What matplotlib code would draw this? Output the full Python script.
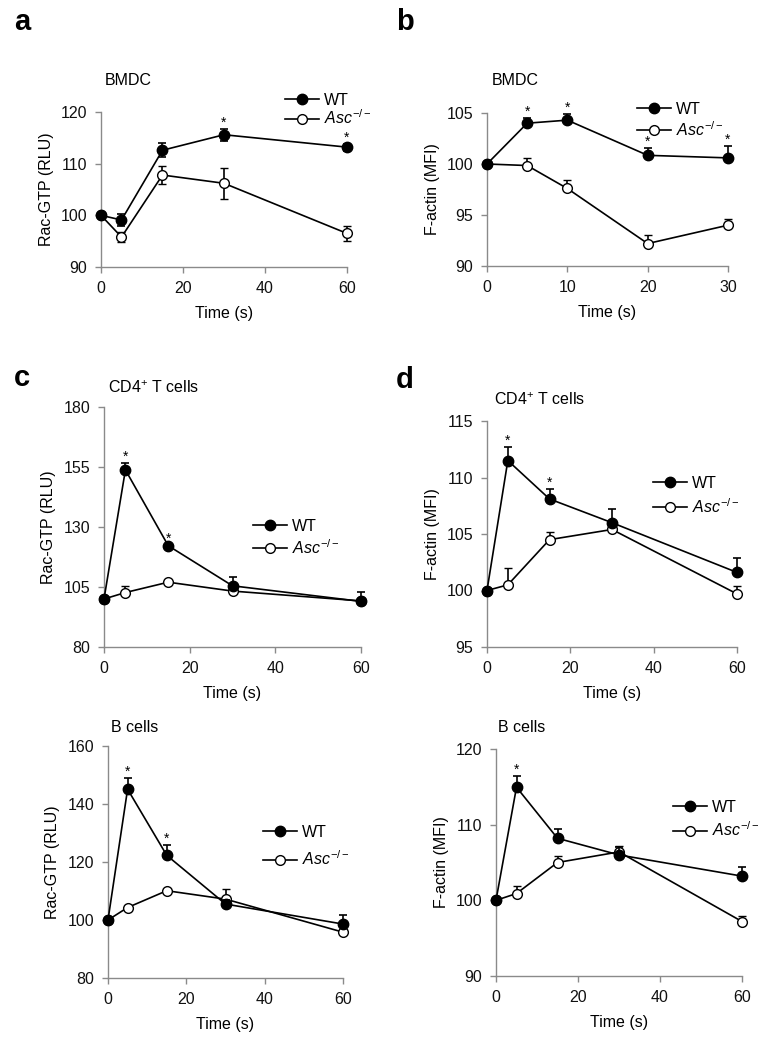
import matplotlib
matplotlib.use("Agg")
import matplotlib.pyplot as plt
import numpy as np

plt.rcParams['font.family'] = ['Liberation Sans', 'DejaVu Sans']
plt.rcParams['mathtext.fontset'] = 'custom'
plt.rcParams['mathtext.rm'] = 'Liberation Sans'
plt.rcParams['mathtext.it'] = 'Liberation Sans:italic'

W, H = 779, 1049

# ---------------- data ----------------
# a: BMDC Rac-GTP
a_time = [0, 5, 15, 30, 60]
a_wt = [100, 99.1, 112.6, 115.6, 113.2]
a_wt_err = [0.4, 1.1, 1.4, 1.2, 0.7]
a_ko = [100, 95.8, 107.8, 106.2, 96.5]
a_ko_err = [0.4, 0.9, 1.7, 3.0, 1.5]
a_star = [30, 60]

# b: BMDC F-actin
b_time = [0, 5, 10, 20, 30]
b_wt = [100, 104.0, 104.3, 100.85, 100.6]
b_wt_err = [0, 0.5, 0.6, 0.7, 1.2]
b_ko = [100, 99.85, 97.6, 92.2, 94.0]
b_ko_err = [0, 0.75, 0.8, 0.8, 0.6]
b_star = [5, 10, 20, 30]

# c: CD4+ T cells Rac-GTP
c_time = [0, 5, 15, 30, 60]
c_wt = [100, 153.8, 122.2, 105.5, 99.0]
c_wt_err = [0, 3.0, 0.5, 3.5, 3.8]
c_ko = [100, 102.7, 107.0, 103.3, 99.2]
c_ko_err = [0, 2.7, 1.0, 1.0, 0.5]
c_star = [5, 15]

# c (lower): B cells Rac-GTP
e_time = [0, 5, 15, 30, 60]
e_wt = [100, 145.1, 122.3, 105.5, 98.6]
e_wt_err = [0, 4.0, 3.5, 1.5, 3.2]
e_ko = [100, 104.3, 110.1, 107.2, 95.8]
e_ko_err = [0, 0.6, 0.6, 3.5, 0.8]
e_star = [5, 15]

# d: CD4+ T cells F-actin
d_time = [0, 5, 15, 30, 60]
d_wt = [100, 111.5, 108.1, 106.0, 101.6]
d_wt_err = [0, 1.2, 0.9, 1.2, 1.3]
d_ko = [100, 100.5, 104.5, 105.4, 99.7]
d_ko_err = [0, 1.5, 0.7, 0.3, 0.7]
d_star = [5, 15]

# d (lower): B cells F-actin
f_time = [0, 5, 15, 30, 60]
f_wt = [100, 114.95, 108.2, 106.0, 103.2]
f_wt_err = [0, 1.45, 1.2, 1.1, 1.2]
f_ko = [100, 100.9, 105.0, 106.4, 97.2]
f_ko_err = [0, 1.0, 0.9, 0.8, 0.7]
f_star = [5]

wt_label = 'WT'
ko_label = r'$\mathit{Asc}^{\mathrm{-/-}}$'
xlabel = 'Time (s)'

fig = plt.figure(figsize=(W / 100, H / 100), dpi=100)


def box(l, r, t, b):
    return [l / W, 1 - b / H, (r - l) / W, (b - t) / H]


GRAY = '#8a8a8a'
FS = 11.5
LFS = 11.5


def panel(rect, t, wt, wte, ko, koe, stars, ylim, yticks, xticks, ylabel,
          title, title_xy, leg_xy, leg_sp, sym=False):
    ax = fig.add_axes(box(*rect))
    z = np.zeros(len(t))
    wt_yerr = [wte, wte] if sym else [z, wte]
    ko_yerr = [koe, koe] if sym else [z, koe]
    cko = ax.errorbar(t, ko, yerr=ko_yerr, color='black', lw=1.2, marker='o',
                      ms=7, mfc='white', mec='black', mew=1.0, capsize=3.2,
                      elinewidth=1.2, capthick=1.2, clip_on=False, zorder=3)
    cwt = ax.errorbar(t, wt, yerr=wt_yerr, color='black', lw=1.2, marker='o',
                      ms=7.5, mfc='black', mec='black', capsize=3.2,
                      elinewidth=1.2, capthick=1.2, clip_on=False, zorder=4)
    for s in stars:
        i = list(t).index(s)
        ax.annotate('*', (s, wt[i] + wte[i]), xytext=(0, 1.5),
                    textcoords='offset points', ha='center', va='baseline',
                    fontsize=10, annotation_clip=False)
    ax.set_xlim(xticks[0], xticks[-1])
    ax.set_ylim(*ylim)
    ax.set_xticks(xticks)
    ax.set_yticks(yticks)
    for sp in ['top', 'right']:
        ax.spines[sp].set_visible(False)
    for sp in ['left', 'bottom']:
        ax.spines[sp].set_color(GRAY)
        ax.spines[sp].set_linewidth(1.0)
    ax.tick_params(direction='out', length=4, width=1.0, color=GRAY,
                   labelsize=FS, pad=6, labelcolor='#111111')
    ax.set_xlabel(xlabel, fontsize=FS, labelpad=7)
    ax.set_ylabel(ylabel, fontsize=FS, labelpad=5)
    fig.text(title_xy[0] / W, 1 - title_xy[1] / H, title, fontsize=FS,
             ha='left', va='baseline')
    ax.legend([cwt[0], cko[0]], [wt_label, ko_label], loc='upper left',
              bbox_to_anchor=(leg_xy[0] / W, 1 - leg_xy[1] / H),
              bbox_transform=fig.transFigure, frameon=False,
              fontsize=LFS, handlelength=2.15, handletextpad=0.3,
              labelspacing=leg_sp, borderpad=0, borderaxespad=0)
    return ax


panel((101, 347, 112, 267), a_time, a_wt, a_wt_err, a_ko, a_ko_err, a_star,
      (90, 120), [90, 100, 110, 120], [0, 20, 40, 60], 'Rac-GTP (RLU)',
      'BMDC', (105, 85), (285, 93), 0.05, sym=True)
panel((487, 728, 113, 266), b_time, b_wt, b_wt_err, b_ko, b_ko_err, b_star,
      (90, 105), [90, 95, 100, 105], [0, 10, 20, 30], 'F-actin (MFI)',
      'BMDC', (492, 85), (637, 102), 0.2)
panel((104, 361, 407, 647), c_time, c_wt, c_wt_err, c_ko, c_ko_err, c_star,
      (80, 180), [80, 105, 130, 155, 180], [0, 20, 40, 60], 'Rac-GTP (RLU)',
      'CD4$^{+}$ T cells', (108, 393), (253, 519), 0.25)
panel((487, 737, 421, 647), d_time, d_wt, d_wt_err, d_ko, d_ko_err, d_star,
      (95, 115), [95, 100, 105, 110, 115], [0, 20, 40, 60], 'F-actin (MFI)',
      'CD4$^{+}$ T cells', (494, 405), (653, 476), 0.4)
panel((108, 343, 746, 978), e_time, e_wt, e_wt_err, e_ko, e_ko_err, e_star,
      (80, 160), [80, 100, 120, 140, 160], [0, 20, 40, 60], 'Rac-GTP (RLU)',
      'B cells', (111, 732), (263, 825), 0.6)
panel((496, 742, 749, 976), f_time, f_wt, f_wt_err, f_ko, f_ko_err, f_star,
      (90, 120), [90, 100, 110, 120], [0, 20, 40, 60], 'F-actin (MFI)',
      'B cells', (498, 732), (673, 800), 0.35)

for letter, x, y in [('a', 14, 30), ('b', 396, 30), ('c', 14, 386), ('d', 396, 388)]:
    fig.text(x / W, 1 - y / H, letter, fontsize=21, fontweight='bold',
             ha='left', va='baseline')

fig.savefig('out.png', dpi=100)
